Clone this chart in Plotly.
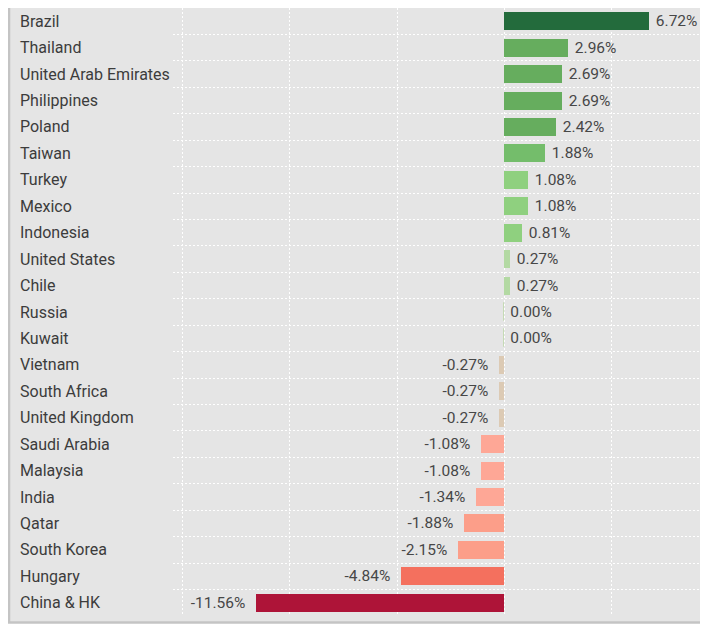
import plotly.graph_objects as go

countries = [
    "Brazil", "Thailand", "United Arab Emirates", "Philippines", "Poland",
    "Taiwan", "Turkey", "Mexico", "Indonesia", "United States", "Chile",
    "Russia", "Kuwait", "Vietnam", "South Africa", "United Kingdom",
    "Saudi Arabia", "Malaysia", "India", "Qatar", "South Korea", "Hungary",
    "China & HK",
]
changes = [
    6.72, 2.96, 2.69, 2.69, 2.42, 1.88, 1.08, 1.08, 0.81, 0.27, 0.27,
    0.00, 0.00, -0.27, -0.27, -0.27, -1.08, -1.08, -1.34, -1.88, -2.15,
    -4.84, -11.56,
]
bar_colors = [
    "#236b3c", "#66ad5e", "#66ad5e", "#66ad5e", "#66ad5e", "#74bd6b",
    "#8fd07f", "#8fd07f", "#8fd07f", "#b3d9a3", "#b3d9a3", "#c5dab5",
    "#c5dab5", "#dccab4", "#dccab4", "#dccab4", "#fea796", "#fea796",
    "#fea796", "#fc9e89", "#fc9e89", "#f4705e", "#ae1438",
]

BG = "#e5e5e5"
TEXT = "#3c3c3c"
FONT = "Roboto"
NBSP = "\u00a0"

pos = list(range(len(countries)))
# a little extra breathing room between bar end and its label
labels = [
    f"{v:.2f}%{NBSP}{NBSP}" if v < 0 else f"{NBSP}{v:.2f}%"
    for v in changes
]

fig = go.Figure()
fig.add_trace(
    go.Bar(
        x=changes,
        y=pos,
        orientation="h",
        width=0.68,
        marker=dict(
            color=bar_colors,
            line=dict(color=bar_colors, width=[1 if v == 0 else 0 for v in changes]),
        ),
        text=labels,
        textposition="outside",
        cliponaxis=False,
        textfont=dict(family=FONT, size=15.5, color="#474747"),
        hoverinfo="skip",
    )
)

# category names, left aligned at the panel edge
for i, name in enumerate(countries):
    fig.add_annotation(
        x=-0.2897, xref="paper", xanchor="left",
        y=i, yref="y",
        text=name, showarrow=False,
        font=dict(family=FONT, size=16, color=TEXT),
    )

# panel background with left and bottom border
fig.add_shape(type="rect", xref="paper", yref="paper",
              x0=-0.31, x1=1.0, y0=-0.0107, y1=1.0,
              fillcolor=BG, line_width=0, layer="below")
fig.add_shape(type="line", xref="paper", yref="paper",
              x0=-0.3065, x1=-0.3065, y0=-0.0107, y1=1.0,
              line=dict(color="#c4c4c4", width=2.5), layer="below")
fig.add_shape(type="line", xref="paper", yref="paper",
              x0=-0.31, x1=1.0, y0=-0.0107, y1=-0.0107,
              line=dict(color="#c4c4c4", width=2.5), layer="below")

fig.update_xaxes(
    range=[-15.45, 9.49],
    tickvals=[-15, -10, -5, 0, 5],
    showticklabels=False,
    showgrid=True, gridcolor="white", gridwidth=1, griddash="2px,2px",
    zeroline=False, showline=False,
)
fig.update_yaxes(
    range=[22.5, -0.5],
    tickvals=[i + 0.5 for i in pos[:-1]],
    showticklabels=False,
    showgrid=True, gridcolor="white", gridwidth=1, griddash="2px,2px",
    zeroline=False, showline=False,
)
fig.update_layout(
    width=700, height=621,
    margin=dict(l=165, r=0, t=0, b=13),
    paper_bgcolor="white",
    plot_bgcolor=BG,
    showlegend=False,
    bargap=0,
    font=dict(family=FONT),
)

fig.write_html("out.html")
